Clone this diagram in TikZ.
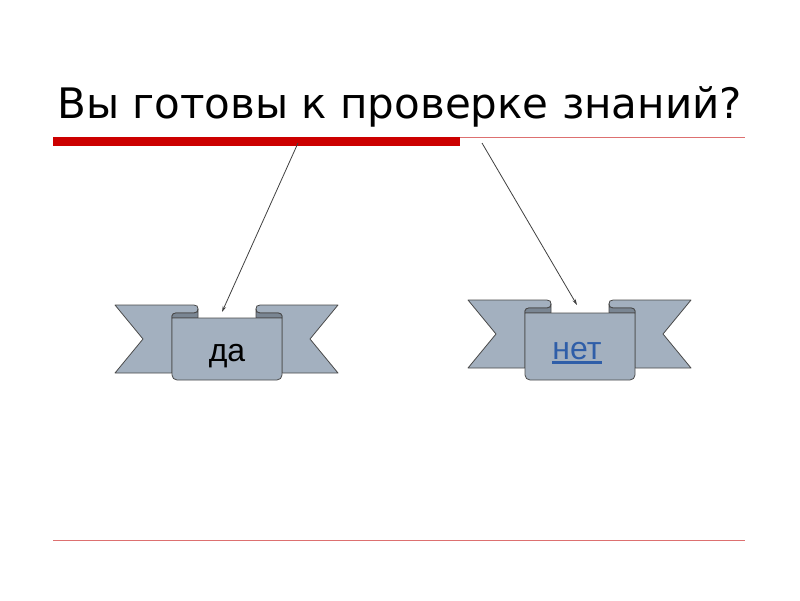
\documentclass[tikz,border=0pt]{standalone}
\usepackage{fontspec}
\setmainfont{Liberation Sans}
\newfontfamily\titlefont{DejaVu Sans}
\usetikzlibrary{arrows.meta}
\definecolor{ribbonfill}{HTML}{A3B0BF}
\definecolor{ribbondark}{HTML}{7A8693}
\definecolor{ribbonline}{HTML}{4A4A4A}
\definecolor{barred}{HTML}{CC0000}
\definecolor{thinred}{HTML}{DD7070}
\definecolor{linkblue}{HTML}{2F5EA8}
\definecolor{arrowgray}{HTML}{404040}
\tikzset{
  ribbon/.style={fill=ribbonfill, draw=ribbonline, line width=0.8pt, line join=round},
  ribbonfold/.style={fill=ribbondark, draw=ribbonline, line width=0.8pt, line join=round},
  thinrule/.style={draw=thinred, line width=1pt},
  pointer/.style={draw=arrowgray, line width=0.8pt, -{Stealth[length=6pt,width=3.5pt]}},
  ribbontext/.style={font=\fontsize{32}{36}\selectfont, anchor=base, inner sep=0pt},
}
\newcommand\myribbon[3]{%
  \begin{scope}[shift={(#1,#2)}]
    % left wing
    \filldraw[ribbon] (0,0) -- (79,0) .. controls (82,0) and (83,1.5) .. (83,4)
      .. controls (83,6.5) and (82,8) .. (79,8) -- (61,8)
      .. controls (59,8) and (57,9) .. (57,11) -- (57,68) -- (0,68) -- (28,34) -- cycle;
    % right wing
    \filldraw[ribbon] (223,0) -- (145,0) .. controls (142,0) and (141,1.5) .. (141,4)
      .. controls (141,6.5) and (142,8) .. (145,8) -- (163,8)
      .. controls (165,8) and (167,9) .. (167,11) -- (167,68) -- (223,68) -- (195,34) -- cycle;
    % folds
    \filldraw[ribbonfold] (57,11) .. controls (57,9) and (59,8) .. (61,8) -- (79,8)
      .. controls (82,8) and (83,6.5) .. (83,4) -- (83,13) -- (57,13) -- cycle;
    \filldraw[ribbonfold] (167,11) .. controls (167,9) and (165,8) .. (163,8) -- (145,8)
      .. controls (142,8) and (141,6.5) .. (141,4) -- (141,13) -- (167,13) -- cycle;
    % panel
    \filldraw[ribbon] (57,13) [rounded corners=5pt] -- (57,#3) -- (167,#3) [sharp corners] -- (167,13) -- cycle;
  \end{scope}}
\begin{document}
\begin{tikzpicture}[x=1pt,y=-1pt]
\useasboundingbox (0,0) rectangle (800,600);
% title
\node[anchor=base west, inner sep=0pt, font=\titlefont\fontsize{42}{48}\selectfont] (title) at (57,118) {Вы готовы к проверке знаний?};
% rules
\fill[barred] (53,137) rectangle (460,146);
\coordinate (rulestart) at (460,137.5);
\coordinate (ruleend) at (745,137.5);
\draw[thinrule] (rulestart) -- (ruleend);
\coordinate (bottomstart) at (53,540);
\coordinate (bottomend) at (745,540);
\draw[thinrule] (bottomstart) -- (bottomend);
% ribbons
\myribbon{115}{305}{75}
\myribbon{468}{300}{80}
\node[ribbontext] (yes) at (227,361) {да};
\node[ribbontext, text=linkblue] (no) at (577,359) {нет};
\draw[draw=linkblue, line width=2.2pt] ([yshift=-3.5pt]no.base west) -- ([yshift=-3.5pt]no.base east);
% arrows
\coordinate (s1) at (298,143);
\coordinate (e1) at (222,312);
\coordinate (s2) at (482,143);
\coordinate (e2) at (577,305);
\draw[pointer] (s1) -- (e1);
\draw[pointer] (s2) -- (e2);
\end{tikzpicture}
\end{document}
